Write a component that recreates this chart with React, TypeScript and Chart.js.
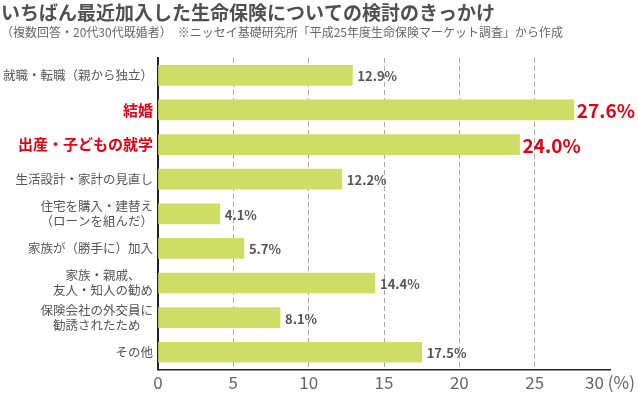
import React, { useEffect, useRef } from "react";
import { Chart, registerables } from "chart.js";

Chart.register(...registerables);

const titleText = "いちばん最近加入した生命保険についての検討のきっかけ";
const subtitleText = "（複数回答・20代30代既婚者）　※ニッセイ基礎研究所「平成25年度生命保険マーケット調査」から作成";

const categories: string[][] = [
  ["就職・転職（親から独立）"],
  ["結婚"],
  ["出産・子どもの就学"],
  ["生活設計・家計の見直し"],
  ["住宅を購入・建替え", "（ローンを組んだ）"],
  ["家族が（勝手に）加入"],
  ["家族・親戚、", "友人・知人の勧め"],
  ["保険会社の外交員に", "勧誘されたため"],
  ["その他"],
];
const values = [12.9, 27.6, 24.0, 12.2, 4.1, 5.7, 14.4, 8.1, 17.5];
const highlighted = [1, 2];
const axisMax = 30;
const axisStep = 5;
const axisUnit = "(%)";

const FONT = '"Noto Sans CJK JP", "Noto Sans", sans-serif';
const RED = "#e60012";
const GRAY = "#555555";

const textPlugin = {
  id: "customText",
  afterDraw(chart: any) {
    const ctx = chart.ctx;
    const area = chart.chartArea;
    const yScale = chart.scales.y;
    ctx.save();
    // title
    ctx.fillStyle = "#505050";
    ctx.font = `bold 19px ${FONT}`;
    ctx.textBaseline = "middle";
    ctx.textAlign = "left";
    ctx.fillText(titleText, 1, 12.5);
    ctx.fillStyle = "#666666";
    ctx.font = `12px ${FONT}`;
    ctx.fillText(subtitleText, 1, 32);

    // category labels
    const right = area.left - 5;
    const lineH = 15;
    categories.forEach((lines, i) => {
      const hi = highlighted.includes(i);
      ctx.font = hi ? `bold 15px ${FONT}` : `12.5px ${FONT}`;
      ctx.fillStyle = hi ? RED : GRAY;
      const maxW = Math.max(...lines.map((l) => ctx.measureText(l).width));
      const cx = right - maxW / 2;
      const yc = yScale.getPixelForValue(i);
      ctx.textAlign = "center";
      lines.forEach((l, j) => {
        const y = yc + (j - (lines.length - 1) / 2) * lineH;
        ctx.fillText(l, cx, y);
      });
    });

    // value labels
    const meta = chart.getDatasetMeta(0);
    meta.data.forEach((bar: any, i: number) => {
      const hi = highlighted.includes(i);
      ctx.font = hi ? `bold 19px ${FONT}` : `bold 13px ${FONT}`;
      ctx.fillStyle = hi ? RED : GRAY;
      ctx.textAlign = "left";
      ctx.fillText(values[i].toFixed(1) + "%", bar.x + (hi ? 3 : 5), bar.y + 1);
    });
    ctx.restore();
  },
};

export default function App() {
  const ref = useRef<HTMLCanvasElement>(null);
  useEffect(() => {
    if (!ref.current) return;
    const chart = new Chart(ref.current, {
      type: "bar",
      data: {
        labels: categories.map((c) => c.join("")),
        datasets: [
          {
            data: values,
            backgroundColor: "#cddd66",
            borderWidth: 0,
            barThickness: 20,
          },
        ],
      },
      options: {
        indexAxis: "y",
        animation: false,
        responsive: false,
        layout: { padding: { left: 158, right: 28, top: 58, bottom: 0 } },
        plugins: {
          legend: { display: false },
          tooltip: { enabled: false },
          title: { display: false },
        },
        scales: {
          x: {
            type: "linear",
            min: 0,
            max: axisMax,
            ticks: {
              stepSize: axisStep,
              padding: 3,
              color: "#666666",
              font: { family: FONT, size: 17 },
              callback: (v: any) => (v === axisMax ? `${v} ${axisUnit}` : `${v}`),
            },
            grid: {
              drawTicks: false,
              lineWidth: 1,
              color: (c: any) =>
                c.tick && (c.tick.value === 0 || c.tick.value === axisMax) ? "rgba(0,0,0,0)" : "#aaaaaa",
            },
            border: { display: true, color: "#222222", width: 1.5, dash: [5, 3] },
          },
          y: {
            type: "category",
            ticks: { display: false },
            grid: { display: false, drawTicks: false },
            border: { display: true, color: "#222222", width: 2 },
          },
        },
      },
      plugins: [textPlugin],
    });
    return () => chart.destroy();
  }, []);
  return (
    <div style={{ position: "fixed", left: 0, top: 0, width: 638, height: 396, background: "#fff" }}>
      <canvas ref={ref} width={638} height={396} style={{ display: "block" }} />
    </div>
  );
}
